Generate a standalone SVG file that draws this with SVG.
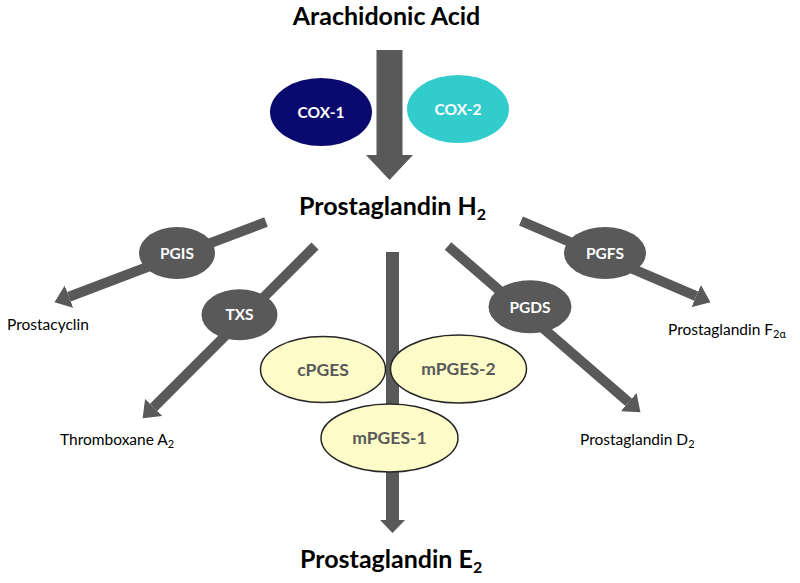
<svg xmlns="http://www.w3.org/2000/svg" width="800" height="583" viewBox="0 0 800 583">
<defs>
<style>
.bg{fill:#ffffff}
.title{font-family:Lato,"Liberation Sans",sans-serif;font-weight:bold;font-size:25px;fill:#000}
.lbl{font-family:Lato,"Liberation Sans",sans-serif;font-size:15.5px;fill:#000}
.enz{fill:#595959}
.enzt{font-family:Lato,"Liberation Sans",sans-serif;font-weight:bold;font-size:15.5px;fill:#fff;text-anchor:middle}
.pges{fill:#fdfbc8;stroke:#262626;stroke-width:1.5}
.pgest{font-family:Lato,"Liberation Sans",sans-serif;font-weight:bold;font-size:17.5px;fill:#595959;text-anchor:middle}
.shaft{stroke:#595959;stroke-width:10;fill:none;marker-end:url(#head)}
.big{fill:#595959}
</style>
<marker id="head" markerUnits="strokeWidth" markerWidth="1.6" markerHeight="2.4" refX="0" refY="1.2" orient="auto" viewBox="0 0 1.6 2.4">
<path d="M0,0 L1.55,1.2 L0,2.4 z" fill="#595959"/>
</marker>
</defs>
<rect class="bg" x="0" y="0" width="800" height="583"/>

<g id="connectors">
<polygon class="big" points="376.5,50 402.5,50 402.5,155 413,155 389.5,180 366,155 376.5,155"/>
<line class="shaft" x1="266" y1="222" x2="69" y2="296.7"/>
<line class="shaft" x1="315" y1="246" x2="153.6" y2="407.4"/>
<line class="shaft" x1="521" y1="221" x2="696.2" y2="296.1"/>
<line class="shaft" x1="448" y1="246" x2="628.7" y2="402.2"/>
<polygon class="big" points="386,252 399,252 399,520 405,520 392.5,533 380,520 386,520"/>
</g>

<g id="arachidonic-acid"><text class="title" x="386.5" y="25" text-anchor="middle">Arachidonic Acid</text></g>

<g id="cox-1">
<ellipse cx="321" cy="112" rx="51" ry="34" fill="#0a0a6e"/>
<text class="enzt" x="321" y="118" font-size="18">COX-1</text>
</g>
<g id="cox-2">
<ellipse cx="458" cy="109" rx="51" ry="34" fill="#33cccc"/>
<text class="enzt" x="458" y="115" font-size="18">COX-2</text>
</g>

<g id="pgh2"><text class="title" x="299" y="215">Prostaglandin H<tspan font-size="16" dy="5">2</tspan></text></g>

<g id="pgis">
<ellipse class="enz" cx="177" cy="253" rx="38" ry="26"/>
<text class="enzt" x="177" y="258.5">PGIS</text>
</g>
<g id="txs">
<ellipse class="enz" cx="239.5" cy="314.7" rx="38" ry="25.5"/>
<text class="enzt" x="239.5" y="319.5" font-size="14.5">TXS</text>
</g>
<g id="pgfs">
<ellipse class="enz" cx="605" cy="253" rx="41" ry="26"/>
<text class="enzt" x="605" y="258.5">PGFS</text>
</g>
<g id="pgds">
<ellipse class="enz" cx="530" cy="306.7" rx="41.5" ry="26.5"/>
<text class="enzt" x="530" y="312.5">PGDS</text>
</g>

<g id="cpges">
<ellipse class="pges" cx="323" cy="369.5" rx="62.5" ry="33"/>
<text class="pgest" x="323" y="375.5">cPGES</text>
</g>
<g id="mpges-2">
<ellipse class="pges" cx="458.5" cy="369" rx="68" ry="34"/>
<text class="pgest" x="458.5" y="375">mPGES-2</text>
</g>
<g id="mpges-1">
<ellipse class="pges" cx="389.5" cy="438" rx="68.5" ry="34"/>
<text class="pgest" x="389.5" y="444">mPGES-1</text>
</g>

<g id="prostacyclin"><text class="lbl" x="7" y="330">Prostacyclin</text></g>
<g id="thromboxane"><text class="lbl" x="60" y="445">Thromboxane A<tspan font-size="11" dy="3">2</tspan></text></g>
<g id="pgf2a"><text class="lbl" x="668" y="335">Prostaglandin F<tspan font-size="11" dy="3">2α</tspan></text></g>
<g id="pgd2"><text class="lbl" x="580" y="445">Prostaglandin D<tspan font-size="11" dy="3">2</tspan></text></g>

<g id="pge2"><text class="title" x="300" y="568">Prostaglandin E<tspan font-size="16" dy="5">2</tspan></text></g>
</svg>
